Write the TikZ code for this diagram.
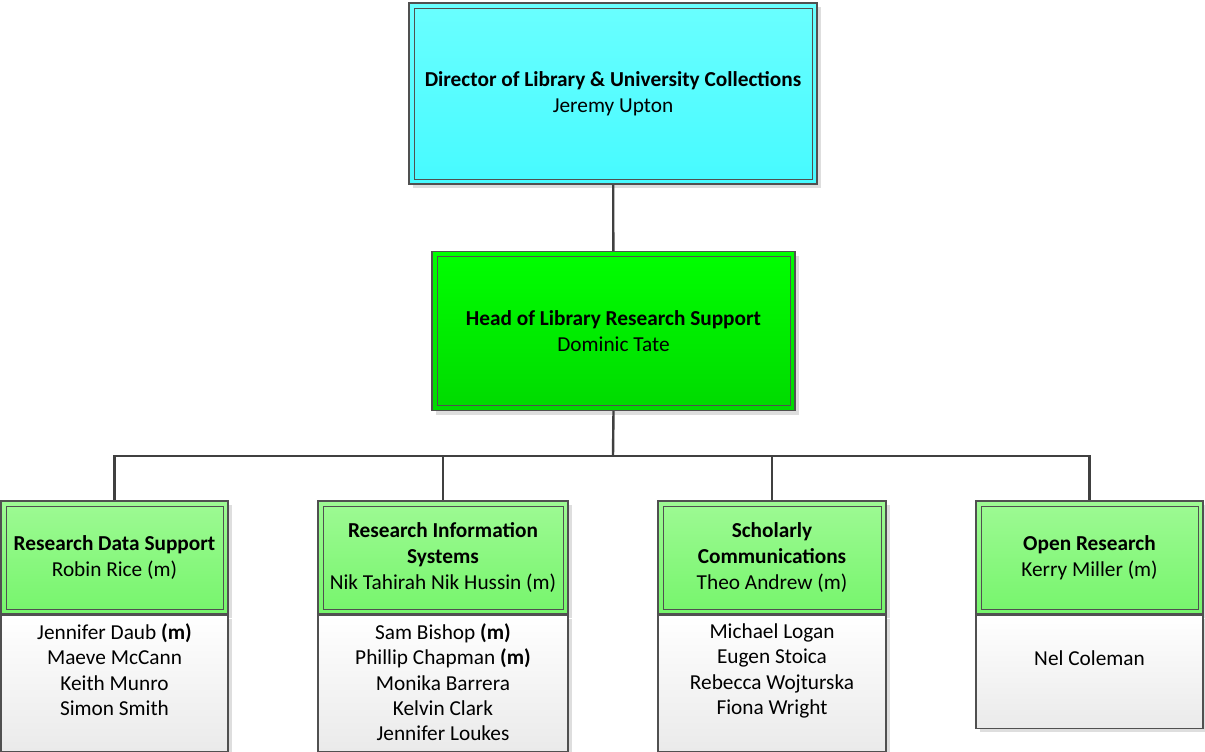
\documentclass[tikz,border=0pt]{standalone}
\usepackage{fontspec}
\setmainfont{Carlito}
\usetikzlibrary{positioning,shadows}
\definecolor{dirtop}{RGB}{106,255,255}
\definecolor{dirbot}{RGB}{70,250,255}
\definecolor{headtop}{RGB}{0,255,0}
\definecolor{headbot}{RGB}{0,218,0}
\definecolor{teamtop}{RGB}{158,250,148}
\definecolor{teambot}{RGB}{118,245,108}
\definecolor{membot}{RGB}{234,234,234}
\definecolor{edgegray}{RGB}{80,80,80}
\definecolor{linegray}{RGB}{64,64,64}

\begin{document}
\begin{tikzpicture}[x=1pt,y=-1pt,
    box/.style={draw=edgegray, line width=1.2pt, align=center, inner sep=0pt,
      font=\fontsize{21.3}{26}\selectfont,
      drop shadow={shadow xshift=4pt, shadow yshift=-4pt, fill=black!13, opacity=1}},
    inbox/.style={box, path picture={\draw[edgegray, line width=0.7pt]
      ([shift={(5pt,-5pt)}]path picture bounding box.north west) rectangle
      ([shift={(-5pt,5pt)}]path picture bounding box.south east);}},
    team/.style={inbox, top color=teamtop, bottom color=teambot, minimum height=113pt},
    members/.style={box, top color=white, bottom color=membot, anchor=north},
    names/.style={anchor=north, align=center, inner sep=0pt, font=\fontsize{21.3}{25.3}\selectfont},
    conn/.style={linegray, line width=2.4pt}]
    \useasboundingbox (0,0) rectangle (1205,752);

    \node[inbox, top color=dirtop, bottom color=dirbot, minimum width=408pt, minimum height=181pt]
      (dir) at (613,93.5) {\textbf{Director of Library \& University Collections}\\Jeremy Upton};
    \node[inbox, top color=headtop, bottom color=headbot, minimum width=363pt, minimum height=159pt]
      (head) at (613.5,331) {\textbf{Head of Library Research Support}\\Dominic Tate};

    % teams
    \node[team, minimum width=227pt] (rds) at (114.5,557.5) {\textbf{Research Data Support}\\Robin Rice (m)};
    \node[team, minimum width=250pt] (ris) at (443,557.5) {\textbf{Research Information}\\\textbf{Systems}\\Nik Tahirah Nik Hussin (m)};
    \node[team, minimum width=228pt] (sc) at (772,557.5) {\textbf{Scholarly}\\\textbf{Communications}\\Theo Andrew (m)};
    \node[team, minimum width=227pt] (ors) at (1089.5,557.5) {\textbf{Open Research}\\Kerry Miller (m)};

    % staff
    \node[members, minimum width=227pt, minimum height=136pt, below=0pt of rds] (rdsm) {};
    \node[members, minimum width=250pt, minimum height=136pt, below=0pt of ris] (rism) {};
    \node[members, minimum width=228pt, minimum height=136pt, below=0pt of sc] (scm) {};
    \node[members, minimum width=227pt, minimum height=113pt, below=0pt of ors] (orsm) {};

    \node[names] (rdsn) at ([yshift=-9pt]rdsm.north) {Jennifer Daub \textbf{(m)}\\Maeve McCann\\Keith Munro\\Simon Smith};
    \node[names] (risn) at ([yshift=-9pt]rism.north) {Sam Bishop \textbf{(m)}\\Phillip Chapman \textbf{(m)}\\Monika Barrera\\Kelvin Clark\\Jennifer Loukes};
    \node[names] (scn) at ([yshift=-9pt]scm.north) {Michael Logan\\Eugen Stoica\\Rebecca Wojturska\\Fiona Wright};
    \node[names] (orsn) at ([yshift=-36pt]orsm.north) {Nel Coleman};

    % connectors
    \draw[conn] (dir) -- (head);
    \coordinate (bus) at (613,456);
    \draw[conn] (head.south) -- (bus);
    \foreach \t in {rds,ris,sc,ors}
      \draw[conn] (bus) -| (\t.north);
\end{tikzpicture}
\end{document}
